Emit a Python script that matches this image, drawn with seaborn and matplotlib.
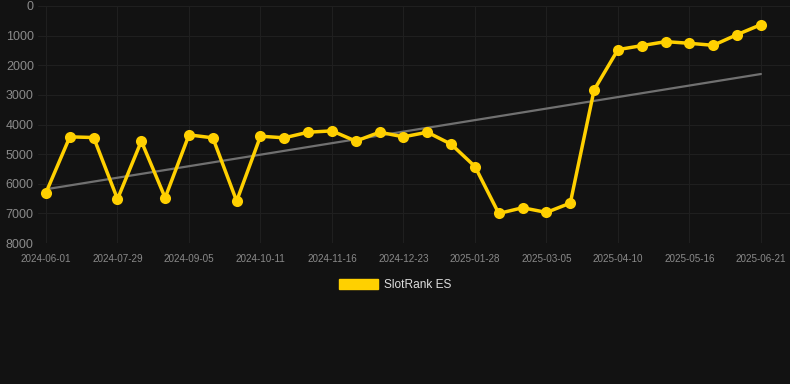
import numpy as np
import pandas as pd
import matplotlib
matplotlib.use('Agg')
import matplotlib.pyplot as plt
import matplotlib.patches as mpatches
import seaborn as sns

# ranks per snapshot (lower is better, axis is inverted)
rank_values = [6300, 4417, 4440, 6518, 4562, 6473, 4350, 4450, 6585, 4395,
               4450, 4260, 4215, 4562, 4260, 4417, 4260, 4665, 5418, 7003,
               6810, 6968, 6653, 2832, 1473, 1338, 1203, 1259, 1327, 966, 630]
tick_labels = ['2024-06-01', '2024-07-29', '2024-09-05', '2024-10-11', '2024-11-16',
               '2024-12-23', '2025-01-28', '2025-03-05', '2025-04-10', '2025-05-16',
               '2025-06-21']
series_name = 'SlotRank ES'

df = pd.DataFrame({'idx': np.arange(len(rank_values)), 'rank': rank_values})

bg = '#121212'
sns.set_theme(style='dark')
plt.rcParams['font.family'] = ['Liberation Sans', 'DejaVu Sans']

fig = plt.figure(figsize=(7.9, 3.84), dpi=100, facecolor=bg)
ax = fig.add_axes([38/790, 1 - 243/384, 752/790, 237/384])
ax.set_facecolor(bg)

# trend line (linear fit over the series)
sns.regplot(data=df, x='idx', y='rank', ax=ax, scatter=False, ci=None,
            line_kws={'color': '#707070', 'lw': 1.6, 'zorder': 2})
sns.lineplot(data=df, x='idx', y='rank', ax=ax, color='#FFD000', lw=2.5,
             marker='o', markersize=8, markeredgewidth=0, zorder=3)

ax.set_ylim(8000, 0)
ax.set_xlim(-0.336, 31.22)
ax.set_yticks(np.arange(0, 8001, 1000))
ax.set_xticks(np.arange(0, len(rank_values), 3))
ax.set_xticklabels(tick_labels)
ax.tick_params(axis='y', colors='#8a8a8a', labelsize=9, length=0, pad=3)
ax.tick_params(axis='x', colors='#8a8a8a', labelsize=7.1, length=0, pad=8)
ax.grid(True, color='#1f1f1f', lw=0.8)
ax.set_xlabel('')
ax.set_ylabel('')
for s in ax.spines.values():
    s.set_visible(False)

handle = mpatches.Patch(color='#FFD000', label=series_name)
leg = fig.legend(handles=[handle], loc='center', bbox_to_anchor=(0.5, 1 - 285/384),
                 frameon=False, fontsize=8.6, handlelength=3.3, handleheight=0.95,
                 handletextpad=0.5)
for t in leg.get_texts():
    t.set_color('#dddddd')

fig.savefig('out.png', dpi=100, facecolor=bg)
